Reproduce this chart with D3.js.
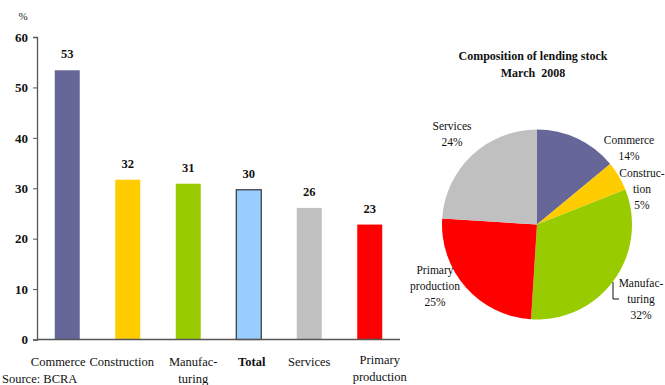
<!DOCTYPE html>
<html>
<head>
<meta charset="utf-8">
<script src="https://cdn.jsdelivr.net/npm/d3@7"></script>
<style>
  html, body { margin: 0; padding: 0; background: #fff; }
  svg text { font-family: "Liberation Serif", "Times New Roman", Times, "DejaVu Serif", "Noto Serif", serif !important; }
</style>
</head>
<body>
<svg id="chart" width="665" height="385"></svg>
<script>
// Delinquency ratio by sector (%)
const barCategories = ["Commerce", "Construction", "Manufacturing", "Total", "Services", "Primary production"];
const barValues = [53.4, 31.7, 30.9, 29.7, 26.1, 22.8];
const barLabelLines = [["Commerce"], ["Construction"], ["Manufac-", "turing"], ["Total"], ["Services"], ["Primary", "production"]];
const barColors = ["#666699", "#FFCC00", "#99CC00", "#99CCFF", "#C0C0C0", "#FF0000"];
const yTicks = [0, 10, 20, 30, 40, 50, 60];

// Composition of lending stock, March 2008 (%)
const pieCategories = ["Commerce", "Construction", "Manufacturing", "Primary production", "Services"];
const pieValues = [14, 5, 32, 25, 24];
const pieLabelLines = [["Commerce"], ["Construc-", "tion"], ["Manufac-", "turing"], ["Primary", "production"], ["Services"]];
const pieColors = ["#666699", "#FFCC00", "#99CC00", "#FF0000", "#C0C0C0"];

const svg = d3.select("#chart");

// ---------- Bar chart ----------
const x = d3.scaleBand().domain(barCategories).range([37, 400]).paddingInner(0.587).paddingOuter(0.2935);
const y = d3.scaleLinear().domain([0, 60]).range([339.5, 37]);

const yAxis = svg.append("g")
  .attr("transform", "translate(37,0)")
  .call(d3.axisLeft(y).tickValues(yTicks).tickSize(4).tickPadding(5));
yAxis.select(".domain").attr("stroke", "#555").attr("stroke-width", 1.3);
yAxis.selectAll(".tick line").attr("stroke", "#555");
yAxis.selectAll(".tick text")
  .attr("font-size", 13).attr("font-weight", "bold").attr("fill", "#111");

svg.append("text").attr("x", 23).attr("y", 20).attr("text-anchor", "middle")
  .attr("font-size", 11).attr("fill", "#222").text("%");

svg.append("g").selectAll("rect").data(barCategories).join("rect")
  .attr("x", d => x(d))
  .attr("width", x.bandwidth())
  .attr("y", (d, i) => y(barValues[i]))
  .attr("height", (d, i) => y(0) - y(barValues[i]))
  .attr("fill", (d, i) => barColors[i])
  .attr("stroke", d => d === "Total" ? "#333" : "none")
  .attr("stroke-width", 1.2);

// baseline
svg.append("line").attr("x1", 37).attr("x2", 400).attr("y1", y(0)).attr("y2", y(0))
  .attr("stroke", "#555").attr("stroke-width", 1.3);

// value labels
svg.append("g").selectAll("text").data(barCategories).join("text")
  .attr("x", d => x(d) + x.bandwidth() / 2)
  .attr("y", (d, i) => y(barValues[i]) - 12)
  .attr("text-anchor", "middle")
  .attr("font-size", 12.5).attr("font-weight", "bold").attr("fill", "#111")
  .text((d, i) => d3.format(".0f")(barValues[i]));

// category labels, nudged horizontally where the text box sits off-centre
const labelShift = { "Commerce": -9, "Construction": -6, "Manufacturing": 5, "Total": 3, "Primary production": 10 };
const catLabels = svg.append("g").selectAll("text").data(barCategories).join("text")
  .attr("text-anchor", "middle")
  .attr("font-size", 12.5)
  .attr("font-weight", d => d === "Total" ? "bold" : "normal")
  .attr("fill", "#111");
catLabels.each(function (d, i) {
  const lines = barLabelLines[i];
  const cx = x(d) + x.bandwidth() / 2 + (labelShift[d] || 0);
  const y0 = d === "Primary production" ? 364 : 366;
  d3.select(this).selectAll("tspan").data(lines).join("tspan")
    .attr("x", cx)
    .attr("y", (l, j) => y0 + j * 16.5)
    .text(l => l);
});

svg.append("text").attr("x", 2).attr("y", 383).attr("font-size", 12.5).attr("fill", "#111")
  .text("Source: BCRA");

// ---------- Pie chart ----------
const pcx = 537, pcy = 224.5, pr = 95;
const pie = d3.pie().sort(null).value(d => d);
const arc = d3.arc().innerRadius(0).outerRadius(pr);
const pieG = svg.append("g").attr("transform", `translate(${pcx},${pcy})`);
pieG.selectAll("path").data(pie(pieValues)).join("path")
  .attr("d", arc)
  .attr("fill", (d, i) => pieColors[i]);

svg.append("text").attr("x", 533).attr("y", 60).attr("text-anchor", "middle")
  .attr("font-size", 12).attr("font-weight", "bold").attr("fill", "#111")
  .text("Composition of lending stock");
svg.append("text").attr("x", 533).attr("y", 77).attr("text-anchor", "middle")
  .attr("font-size", 12).attr("font-weight", "bold").attr("fill", "#111")
  .style("white-space", "pre")
  .text("March  2008");

// label anchor points (centre of each text block, first baseline)
const pieLabelPos = {
  "Commerce": [629, 144],
  "Construction": [642, 177],
  "Manufacturing": [641, 287],
  "Primary production": [435, 274],
  "Services": [452, 130]
};
pieCategories.forEach((c, i) => {
  const [lx, ly] = pieLabelPos[c];
  const lines = pieLabelLines[i].concat([pieValues[i] + "%"]);
  const t = svg.append("text").attr("text-anchor", "middle")
    .attr("font-size", 11.5).attr("fill", "#111");
  t.selectAll("tspan").data(lines).join("tspan")
    .attr("x", lx).attr("y", (l, j) => ly + j * 16).text(l => l);
});

// leader line for Manufacturing
svg.append("path").attr("d", "M613,282 V299 H619")
  .attr("fill", "none").attr("stroke", "#111").attr("stroke-width", 1);
</script>
</body>
</html>
